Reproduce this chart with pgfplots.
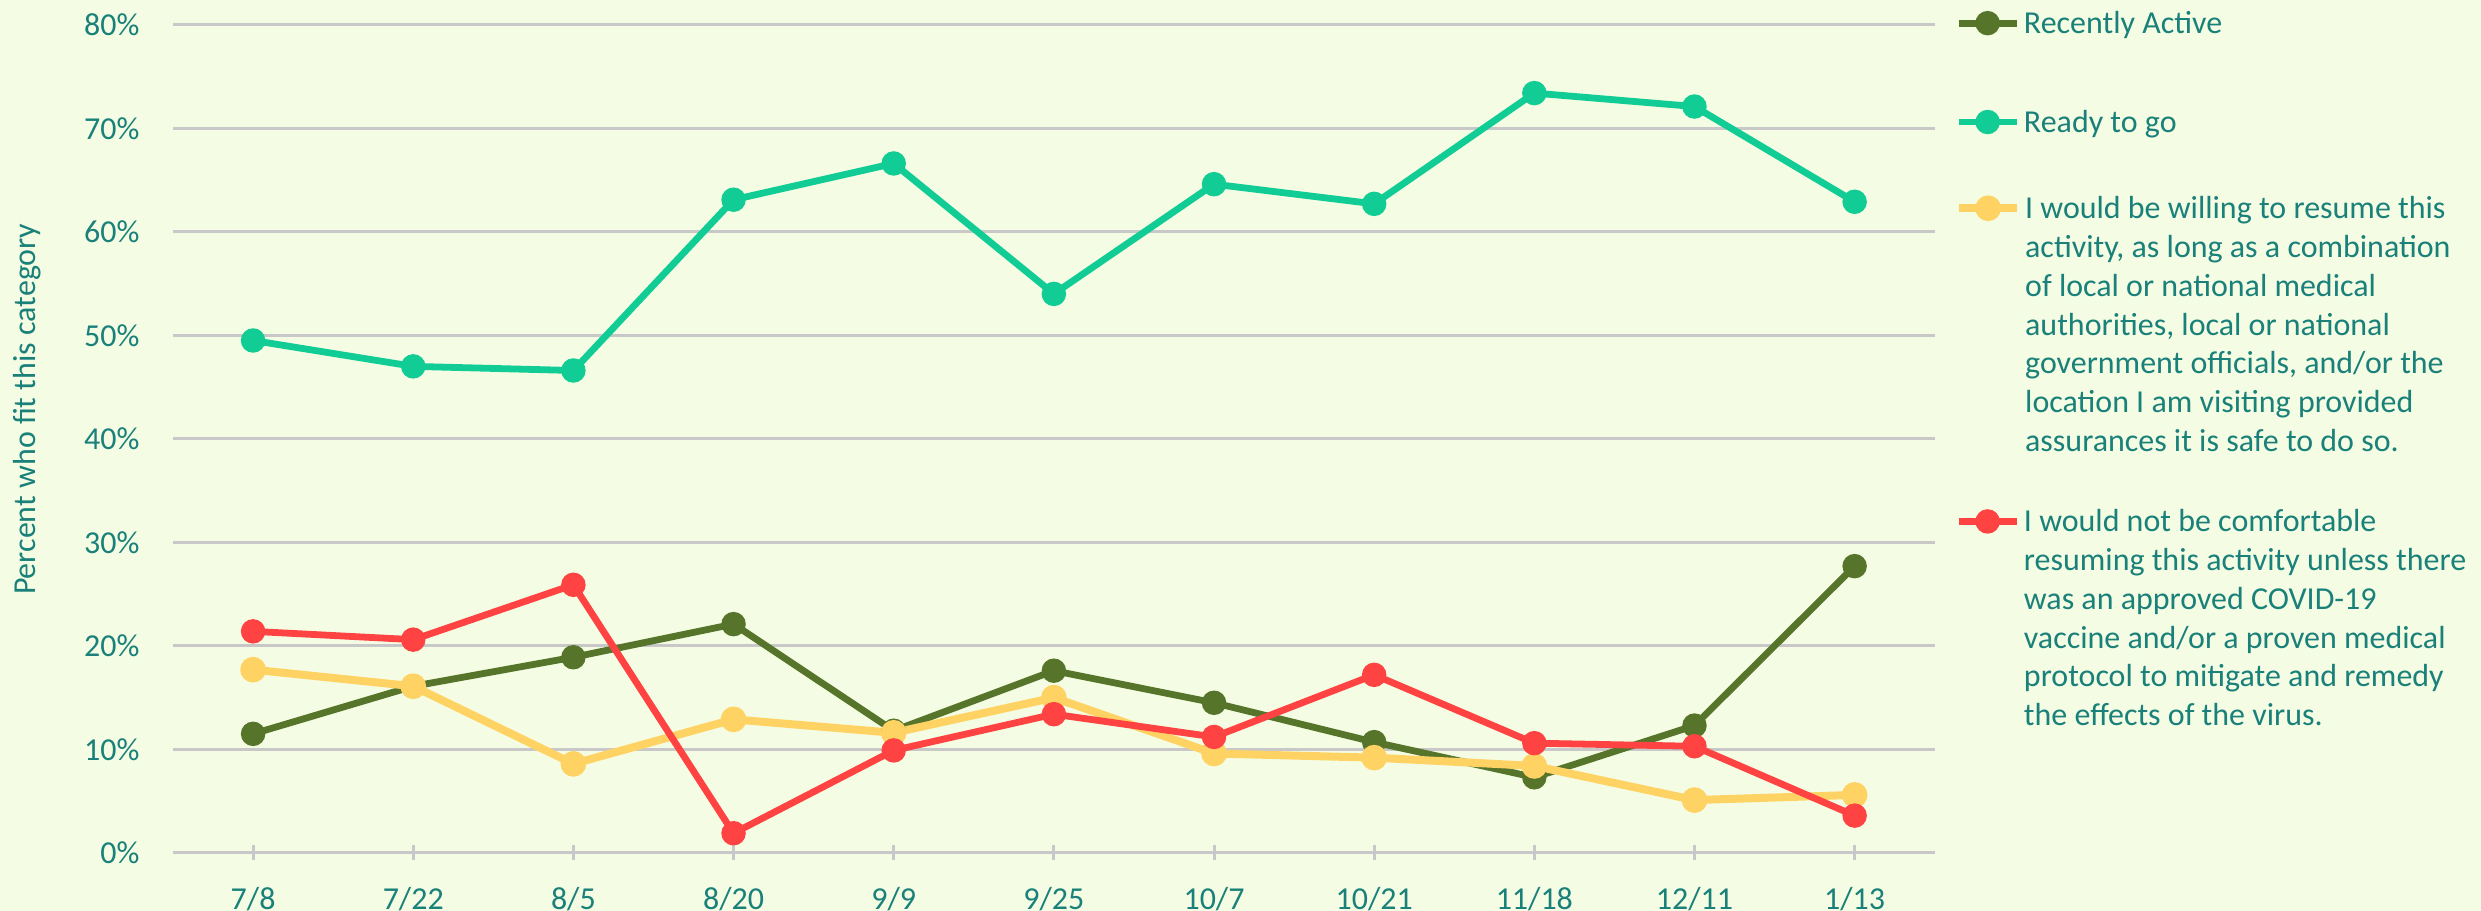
\documentclass[border=0pt]{standalone}
\usepackage{pgfplots}
\pgfplotsset{compat=1.18}
\usepackage{fontspec}
\setmainfont{Carlito}
\usepackage{xcolor}
\definecolor{bgc}{HTML}{F4FDE3}
\definecolor{txtc}{HTML}{1A807A}
\definecolor{gridc}{HTML}{C8C8C8}
\definecolor{actc}{HTML}{56752A}
\definecolor{readyc}{HTML}{12CC96}
\definecolor{yelc}{HTML}{FFD264}
\definecolor{redc}{HTML}{FF4242}
\pagecolor{bgc}
\newcommand{\fs}{\fontsize{8}{9.7}\selectfont}
\pgfplotsset{
  geom/.style={scale only axis, width=441pt, height=207.3pt, xmin=-0.5, xmax=10.5, ymin=0, ymax=80},
  legend image code/.code={\draw[mark repeat=2,mark phase=2,#1] plot coordinates {(0pt,0pt) (7.25pt,0pt) (14.5pt,0pt)};},
  leg/.style={hide axis, legend cell align=left,
    legend style={at={(rel axis cs:1.0112,#1)}, anchor=north west, draw=none, fill=none,
      inner sep=0pt,
      nodes={inner sep=0pt, text=txtc, font=\fs},
      /tikz/every odd column/.append style={column sep=1pt}}},
  ser/.style={line width=1.7pt, mark=*, mark size=2.2pt, mark options={solid}},
}
\begin{document}
\begin{tikzpicture}
\begin{axis}[
  geom,
  clip=false,
  xtick={0,...,10},
  xticklabels={7/8,7/22,8/5,8/20,9/9,9/25,10/7,10/21,11/18,12/11,1/13},
  ytick={0,10,...,80},
  yticklabel={\pgfmathprintnumber{\tick}\%},
  /pgf/number format/assume math mode=true,
  ymajorgrids, grid style={line width=0.75pt, color=gridc},
  axis x line*=bottom, axis y line*=left,
  x axis line style={gridc, line width=0.75pt, -},
  y axis line style={draw=none},
  ytick style={draw=none},
  xtick style={gridc, line width=0.75pt},
  tick align=center, major tick length=3.8pt,
  tick label style={font=\fs, text=txtc},
  yticklabel style={anchor=east, xshift=-6.3pt, inner sep=0pt},
  xticklabel style={anchor=base, yshift=-12.2pt, inner sep=0pt},
  ylabel={Percent who fit this category},
  every axis y label/.style={at={(rel axis cs:-0.0828,0.5357)}, rotate=90, anchor=center, font=\fs, text=txtc},
]
\path[draw=none] (rel axis cs:-0.09637,-0.06874) rectangle (rel axis cs:1.31009,1.0299);
\addplot[actc, ser] coordinates {(0,11.5)(1,16.1)(2,18.9)(3,22.1)(4,11.8)(5,17.6)(6,14.5)(7,10.7)(8,7.3)(9,12.3)(10,27.7)};
\addplot[readyc, ser] coordinates {(0,49.5)(1,47.0)(2,46.6)(3,63.1)(4,66.6)(5,54.0)(6,64.6)(7,62.7)(8,73.4)(9,72.1)(10,62.9)};
\addplot[yelc, ser, line width=2pt] coordinates {(0,17.7)(1,16.1)(2,8.6)(3,12.9)(4,11.6)(5,15.0)(6,9.6)(7,9.2)(8,8.4)(9,5.1)(10,5.6)};
\addplot[redc, ser] coordinates {(0,21.4)(1,20.6)(2,25.9)(3,1.9)(4,9.9)(5,13.4)(6,11.2)(7,17.2)(8,10.6)(9,10.3)(10,3.6)};
\end{axis}
\begin{axis}[geom, leg=1.0229]
\addlegendimage{actc, ser}
\addlegendentry{\parbox[t]{112pt}{\strut Recently Active\strut}}
\end{axis}
\begin{axis}[geom, leg=0.9035]
\addlegendimage{readyc, ser}
\addlegendentry{\parbox[t]{112pt}{\strut Ready to go\strut}}
\end{axis}
\begin{axis}[geom, leg=0.7994]
\addlegendimage{yelc, ser, line width=2pt}
\addlegendentry{\parbox[t]{112pt}{\raggedright\strut \mbox{I would be willing to resume this}\\\mbox{activity, as long as a combination}\\of local or national medical\\authorities, local or national\\\mbox{government officials, and/or the}\\\mbox{location I am visiting provided}\\\mbox{assurances it is safe to do so.}\strut}}
\end{axis}
\begin{axis}[geom, leg=0.4212]
\addlegendimage{redc, ser}
\addlegendentry{\parbox[t]{112pt}{\raggedright\strut I would not be comfortable\\\mbox{resuming this activity unless there}\\was an approved COVID-19\\\mbox{vaccine and/or a proven medical}\\\mbox{protocol to mitigate and remedy}\\the effects of the virus.\strut}}
\end{axis}
\end{tikzpicture}
\end{document}
